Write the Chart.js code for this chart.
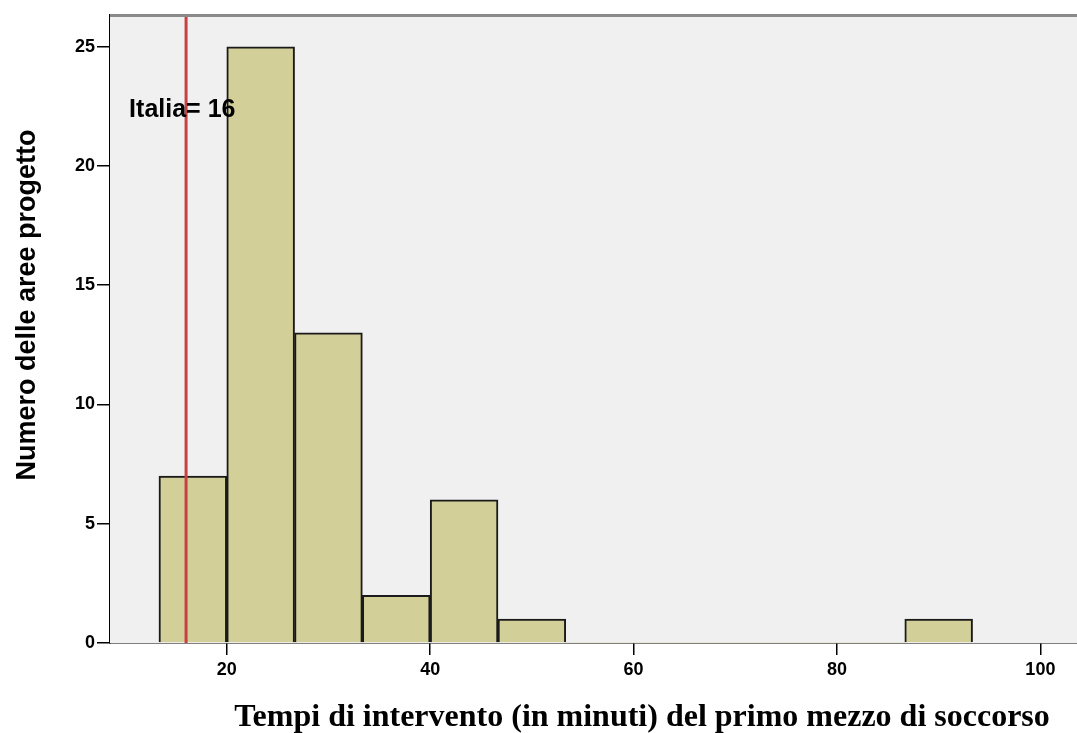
<!DOCTYPE html>
<html>
<head>
<meta charset="utf-8">
<script src="https://cdn.jsdelivr.net/npm/chart.js@4/dist/chart.umd.min.js"></script>
<style>
    body { margin: 0; background: #fff; }
</style>
</head>
<body>
<canvas id="histChart" width="1077" height="733"></canvas>
<script>
// bin edges (minutes) and counts of each bin
const binEdges = [13.33, 20, 26.67, 33.33, 40, 46.67, 53.33, 60, 66.67, 73.33, 80, 86.67, 93.33];
const binCounts = [7, 25, 13, 2, 6, 1, 0, 0, 0, 0, 0, 1];
const xTicks = [20, 40, 60, 80, 100];
const yTicks = [0, 5, 10, 15, 20, 25];
const italiaValue = 16;
const italiaLabel = "Italia= 16";
const xTitle = "Tempi di intervento (in minuti) del primo mezzo di soccorso";
const yTitle = "Numero delle aree progetto";

// bar centres from the edges
const points = binCounts.map((c, i) => ({
    x: (binEdges[i] + binEdges[i + 1]) / 2,
    y: c
}));

// BACKGROUND, REFERENCE LINE AND TITLES
const decorPlugin = {
    id: "decor",
    beforeDatasetsDraw(chart) {
        const ctx = chart.ctx;
        const a = chart.chartArea;
        ctx.save();
        ctx.fillStyle = "#f0f0f0";
        ctx.fillRect(a.left, a.top, a.right - a.left, a.bottom - a.top);
        ctx.restore();
    },
    afterDatasetsDraw(chart) {
        const ctx = chart.ctx;
        const a = chart.chartArea;
        const x = chart.scales.x;
        const y = chart.scales.y;

        ctx.save();
        // top frame
        ctx.strokeStyle = "#8a8a8a";
        ctx.lineWidth = 3;
        ctx.beginPath();
        ctx.moveTo(a.left, a.top + 0.5);
        ctx.lineTo(a.right, a.top + 0.5);
        ctx.stroke();

        // Italia line
        const px = x.getPixelForValue(italiaValue);
        ctx.strokeStyle = "#c94040";
        ctx.lineWidth = 3;
        ctx.beginPath();
        ctx.moveTo(px, a.top + 2);
        ctx.lineTo(px, a.bottom);
        ctx.stroke();

        ctx.fillStyle = "#000";
        ctx.font = "bold 25px 'Liberation Sans', Arial, sans-serif";
        ctx.textAlign = "left";
        ctx.textBaseline = "alphabetic";
        ctx.fillText(italiaLabel, x.getPixelForValue(10.4), y.getPixelForValue(22.06));
        ctx.restore();
    },
    afterDraw(chart) {
        const ctx = chart.ctx;
        ctx.save();
        ctx.fillStyle = "#000";

        ctx.font = "bold 32px 'Liberation Serif', 'Times New Roman', serif";
        ctx.textAlign = "center";
        ctx.textBaseline = "alphabetic";
        ctx.fillText(xTitle, 642, 726);

        ctx.translate(28, 305);
        ctx.rotate(-Math.PI / 2);
        ctx.font = "bold 27px 'Liberation Sans', Arial, sans-serif";
        ctx.textBaseline = "middle";
        ctx.fillText(yTitle, 0, 0);
        ctx.restore();
    }
};

const tickFont = { family: "'Liberation Sans', Arial, sans-serif", size: 18, weight: "bold" };

new Chart(document.getElementById("histChart"), {
    type: "bar",
    data: {
        datasets: [{
            data: points,
            backgroundColor: "#d3cf98",
            borderColor: "#1a1a1a",
            borderWidth: c => (c.raw && c.raw.y ? 2 : 0),
            borderSkipped: "bottom",
            barPercentage: 1,
            categoryPercentage: 1
        }]
    },
    options: {
        responsive: false,
        animation: false,
        layout: { padding: { top: 15, right: 0, left: 0, bottom: 0 } },
        plugins: {
            legend: { display: false },
            tooltip: { enabled: false }
        },
        scales: {
            x: {
                type: "linear",
                offset: false,
                min: 8.52,
                max: 103.6,
                afterBuildTicks: s => { s.ticks = xTicks.map(v => ({ value: v })); },
                afterFit: s => { s.height = 90; },
                ticks: { color: "#000", font: tickFont, padding: 4, maxRotation: 0 },
                grid: {
                    offset: false,
                    drawOnChartArea: false,
                    drawTicks: true,
                    tickLength: 12,
                    color: "#000",
                    lineWidth: 1.5
                },
                border: { display: true, color: "#000", width: 1.5 }
            },
            y: {
                min: 0,
                max: 26.33,
                afterBuildTicks: s => { s.ticks = yTicks.map(v => ({ value: v })); },
                afterFit: s => { s.width = 110; },
                ticks: { color: "#000", font: tickFont, padding: 2 },
                grid: {
                    drawOnChartArea: false,
                    drawTicks: true,
                    tickLength: 13,
                    color: "#000",
                    lineWidth: 1.5
                },
                border: { display: true, color: "#000", width: 1.5 }
            }
        }
    },
    plugins: [decorPlugin]
});
</script>
</body>
</html>
